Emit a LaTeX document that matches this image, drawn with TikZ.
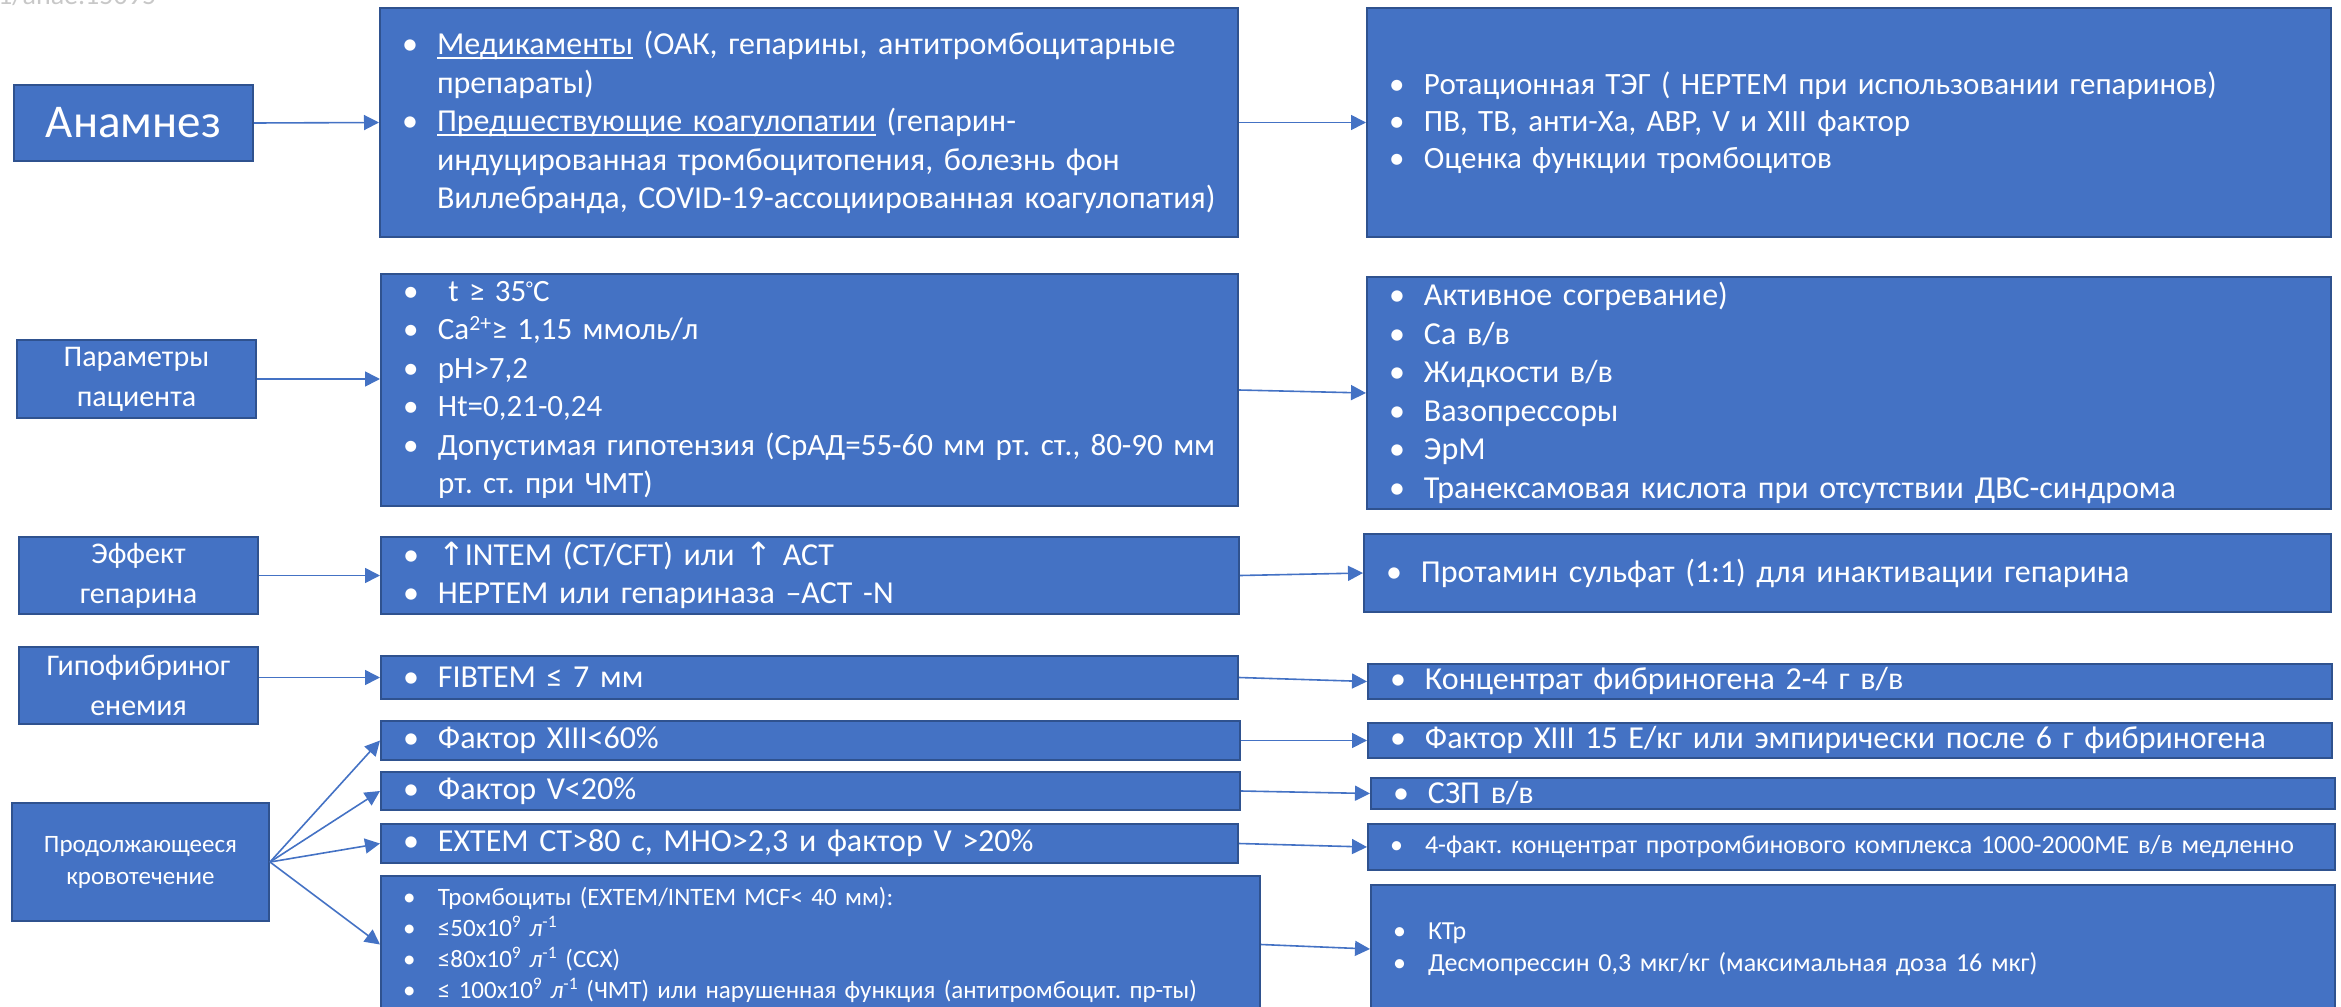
\documentclass[tikz,border=0pt]{standalone}
\usepackage{fontspec}
\setmainfont{Carlito}
\newfontfamily\djv{DejaVu Sans}
\usetikzlibrary{arrows.meta}
\definecolor{boxblue}{HTML}{4472C4}
\definecolor{boxedge}{HTML}{2F528F}
\definecolor{arrowblue}{HTML}{4472C4}
\definecolor{doigray}{HTML}{C8C8C8}
\newcommand\bitem[1]{\makebox[57pt][l]{\hspace*{22pt}•}\mbox{#1}}
\newcommand\cont[1]{\hspace*{57pt}\mbox{#1}}
\newcommand\ulx[1]{\sbox0{#1}\rlap{\rule[-4pt]{\wd0}{1.6pt}}\usebox0}
\newcommand\up{{\djv ↑}}
\newcommand\dgr{\raisebox{6pt}{\fontsize{20}{20}\selectfont °}}
\frenchspacing
\begin{document}
\begin{tikzpicture}[x=1pt,y=-1pt,
  box/.style={draw=boxedge, fill=boxblue, line width=2pt, text=white, inner sep=0pt, anchor=north west},
  lbox/.style={box, align=center},
  bbox/.style={box, align=left},
  conn/.style={draw=arrowblue, line width=1.6pt, -{Triangle[length=15pt,width=15pt]}},
  fbig/.style={font=\fontsize{47}{56}\selectfont},
  fleft/.style={font=\fontsize{30}{40}\selectfont},
  fleftsm/.style={font=\fontsize{25}{32}\selectfont},
  fmain/.style={font=\fontsize{32}{38.5}\selectfont},
  fmid/.style={font=\fontsize{31}{38.5}\selectfont},
  fr1/.style={font=\fontsize{31}{37}\selectfont},
  fsmall/.style={font=\fontsize{25}{31}\selectfont},
  fsmaller/.style={font=\fontsize{26}{31}\selectfont},
  fkt/.style={font=\fontsize{26}{32}\selectfont}]
\path[use as bounding box] (0,0) rectangle (2341,1006);

% doi fragment at the top edge
\node[anchor=base west, text=doigray, inner sep=0pt, font=\fontsize{28}{30}\selectfont] (doi) at (-2,5) {1/anae.15095};

% left column
\node[lbox, fbig, minimum width=239pt, minimum height=76pt] (A) at (13,84) {Анамнез};
\node[lbox, fleft, minimum width=239pt, minimum height=78pt] (P) at (16,339) {Параметры\\пациента};
\node[lbox, fleft, minimum width=239pt, minimum height=77pt] (E) at (18,536) {Эффект\\гепарина};
\node[lbox, fleft, minimum width=239pt, minimum height=77pt] (G) at (18,646) {Гипофибриног\\енемия};
\node[lbox, fleftsm, minimum width=257pt, minimum height=118pt] (B) at (11,802) {Продолжающееся\\кровотечение};

% middle column
\node[bbox, fmain, text width=858pt, minimum height=229pt] (M1) at (379,7) {%
\bitem{\ulx{Медикаменты} (ОАК, гепарины, антитромбоцитарные}\\
\cont{препараты)}\\
\bitem{\ulx{Предшествующие коагулопатии} (гепарин-}\\
\cont{индуцированная тромбоцитопения, болезнь фон}\\
\cont{Виллебранда, COVID-19-ассоциированная коагулопатия)}};

\node[bbox, fmid, text width=857pt, minimum height=232pt] (M2) at (380,273) {%
\bitem{\ t ≥ 35\dgr C}\\
\bitem{Ca\textsuperscript{2+}≥ 1,15 ммоль/л}\\
\bitem{pH>7,2}\\
\bitem{Ht=0,21-0,24}\\
\bitem{Допустимая гипотензия (СрАД=55-60 мм рт. ст., 80-90 мм}\\
\cont{рт. ст. при ЧМТ)}};

\node[bbox, fmain, text width=858pt, minimum height=77pt] (M3) at (380,536) {%
\bitem{\up INTEM (CT/CFT) или \up\ ACT}\\
\bitem{HEPTEM или гепариназа –ACT -N}};

\node[bbox, fmain, text width=857pt, minimum height=43pt] (M4) at (380,655) {\bitem{FIBTEM ≤ 7 мм}};
\node[bbox, fmain, text width=859pt, minimum height=39pt] (M5) at (380,720) {\bitem{Фактор XIII<60\%}};
\node[bbox, fmain, text width=859pt, minimum height=38pt] (M6) at (380,771) {\bitem{Фактор V<20\%}};
\node[bbox, fmain, text width=857pt, minimum height=39pt] (M7) at (380,823) {\bitem{EXTEM CT>80 с, МНО>2,3 и фактор V >20\%}};

\node[bbox, fsmall, text width=879pt, minimum height=137pt] (M8) at (380,875) {%
\bitem{Тромбоциты (EXTEM/INTEM MCF< 40 мм):}\\
\bitem{≤50x10\textsuperscript{9} \textit{л}\textsuperscript{-1}}\\
\bitem{≤80x10\textsuperscript{9} \textit{л}\textsuperscript{-1} (ССХ)}\\
\bitem{≤ 100x10\textsuperscript{9} \textit{л}\textsuperscript{-1} (ЧМТ) или нарушенная функция (антитромбоцит. пр-ты)}};

% right column
\node[bbox, fr1, text width=964pt, minimum height=229pt] (R1) at (1366,7) {%
\bitem{Ротационная ТЭГ ( HEPTEM при использовании гепаринов)}\\
\bitem{ПВ, ТВ, анти-Ха, АВР, V и XIII фактор}\\
\bitem{Оценка функции тромбоцитов}};

\node[bbox, fmain, text width=964pt, minimum height=232pt] (R2) at (1366,276) {%
\bitem{Активное согревание)}\\
\bitem{Са в/в}\\
\bitem{Жидкости в/в}\\
\bitem{Вазопрессоры}\\
\bitem{ЭрМ}\\
\bitem{Транексамовая кислота при отсутствии ДВС-синдрома}};

\node[bbox, fmain, text width=967pt, minimum height=78pt] (R3) at (1363,533) {\bitem{Протамин сульфат (1:1) для инактивации гепарина}};
\node[bbox, fmain, text width=964pt, minimum height=35pt] (R4) at (1367,663) {\bitem{Концентрат фибриногена 2-4 г в/в}};
\node[bbox, fmain, text width=964pt, minimum height=35pt] (R5) at (1367,722) {\bitem{Фактор XIII 15 Е/кг или эмпирически после 6 г фибриногена}};
\node[bbox, fmain, text width=964pt, minimum height=31pt] (R6) at (1370,777) {\bitem{СЗП в/в}};
\node[bbox, fsmaller, text width=967pt, minimum height=46pt] (R7) at (1367,823) {\bitem{4-факт. концентрат протромбинового комплекса 1000-2000МЕ в/в медленно}};
\node[bbox, fkt, text width=964pt, minimum height=128pt] (R8) at (1370,884) {%
\bitem{КТр}\\
\bitem{Десмопрессин 0,3 мкг/кг (максимальная доза 16 мкг)}};

% connectors
\draw[conn] (A.east) -- (M1.west);
\draw[conn] (M1.east) -- (R1.west);
\draw[conn] (P.east) -- (P.east -| M2.west);
\draw[conn] (M2.east) -- (R2.west);
\draw[conn] (E.east) -- (M3.west);
\draw[conn] (M3.east) -- (R3.west);
\draw[conn] (G.east |- M4.west) -- (M4.west);
\draw[conn] (M4.east) -- (R4.west);
\draw[conn] (B.east) -- (M5.west);
\draw[conn] (B.east) -- (M6.west);
\draw[conn] (B.east) -- (M7.west);
\draw[conn] (B.east) -- (M8.west);
\draw[conn] (M5.east) -- (R5.west);
\draw[conn] (M6.east) -- (R6.west);
\draw[conn] (M7.east) -- (R7.west);
\draw[conn] (M8.east) -- (R8.west);
\end{tikzpicture}
\end{document}
